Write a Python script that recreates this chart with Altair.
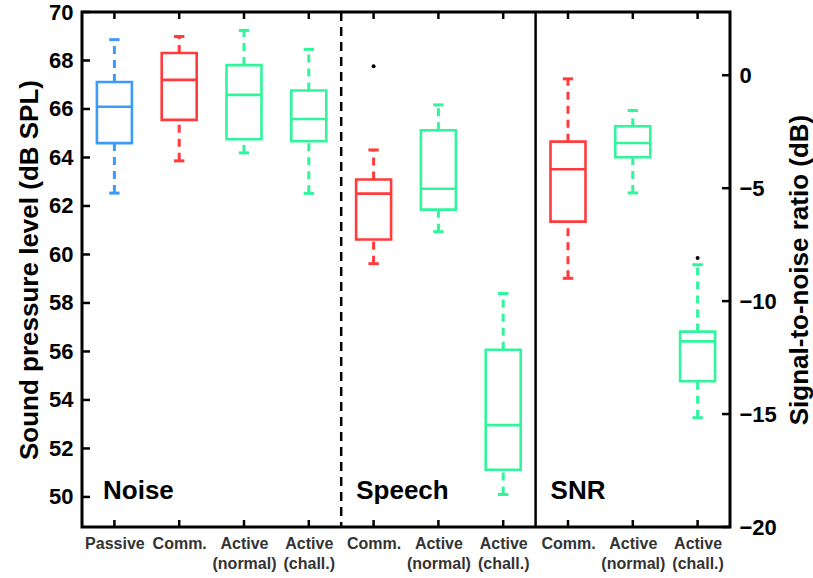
import json
import altair as alt
import pandas as pd

# ---------------- data ----------------
categories = [["Passive"], ["Comm."], ["Active", "(normal)"], ["Active", "(chall.)"],
              ["Comm."], ["Active", "(normal)"], ["Active", "(chall.)"],
              ["Comm."], ["Active", "(normal)"], ["Active", "(chall.)"]]
groups = ["Noise"] * 4 + ["Speech"] * 3 + ["SNR"] * 3
group_names = ["Noise", "Speech", "SNR"]
group_sizes = [4, 3, 3]

whisker_low = [62.53, 63.86, 64.19, 62.52, 59.62, 60.94, 50.10, -8.99, -5.21, -15.16]
q1 = [64.59, 65.55, 64.75, 64.67, 60.62, 61.85, 51.12, -6.48, -3.63, -13.55]
median = [66.09, 67.20, 66.58, 65.59, 62.51, 62.71, 52.96, -4.16, -3.00, -11.78]
q3 = [67.11, 68.31, 67.81, 66.76, 63.09, 65.12, 56.07, -2.94, -2.26, -11.35]
whisker_high = [68.86, 68.99, 69.24, 68.46, 64.31, 66.17, 58.39, -0.16, -1.56, -8.39]

BLUE, RED, GREEN = "#3C9BF7", "#FF3B3B", "#30F59A"
box_colors = [BLUE, RED, GREEN, GREEN, RED, GREEN, GREEN, RED, GREEN, GREEN]

outlier_pos = [4, 9]
outlier_val = [67.76, -8.09]

spl_ticks = list(range(50, 71, 2))
snr_ticks = [-20, -15, -10, -5, 0]

FONT = "Liberation Sans"
W, H = 648, 515

# ---------------- tables ----------------
df = pd.DataFrame({
    "pos": list(range(len(categories))), "group": groups,
    "lo": whisker_low, "q1": q1, "med": median, "q3": q3, "hi": whisker_high,
    "color": box_colors,
})
df_out = pd.DataFrame({"pos": outlier_pos, "v": outlier_val,
                       "group": [groups[p] for p in outlier_pos]})

starts = []
acc = 0
for s in group_sizes:
    starts.append(acc - 0.5)
    acc += s
df_groups = pd.DataFrame({"name": group_names, "start": starts})
df_sep = pd.DataFrame({"b": starts[1:], "kind": ["dashed", "solid"]})

# ---------------- scales / axes ----------------
x_scale = alt.Scale(domain=[-0.5, len(categories) - 0.5], nice=False, zero=False)
label_expr = json.dumps(categories) + "[datum.value]"
x_axis = alt.Axis(title="", values=list(range(len(categories))), labelExpr=label_expr,
                  ticks=False, tickSize=0, domain=False, grid=False,
                  labelFont=FONT, labelFontSize=16, labelFontWeight="bold",
                  labelColor="#333333", labelPadding=8, labelLineHeight=20,
                  labelAngle=0)

spl_scale = alt.Scale(domain=[48.76, 70], nice=False, zero=False)
spl_axis = alt.Axis(title="Sound pressure level (dB SPL)", values=spl_ticks,
                    ticks=False, tickSize=0, domain=False, grid=False,
                    labelFont=FONT, labelFontSize=22, labelFontWeight="bold",
                    labelColor="black", labelPadding=9,
                    titleFont=FONT, titleFontSize=26, titleFontWeight="bold",
                    titleColor="black", titlePadding=6)

snr_scale = alt.Scale(domain=[-20, 2.8], nice=False, zero=False)
snr_axis = alt.Axis(title="Signal-to-noise ratio (dB)", values=snr_ticks, orient="right",
                    ticks=False, tickSize=0, domain=False, grid=False,
                    labelFont=FONT, labelFontSize=22, labelFontWeight="bold",
                    labelColor="black", labelPadding=9,
                    titleFont=FONT, titleFontSize=26, titleFontWeight="bold",
                    titleColor="black", titlePadding=10, titleAngle=270,
                    titleBaseline="top")


def X(field):
    return alt.X(f"{field}:Q", scale=x_scale, axis=x_axis)


def box_layers(data, yscale, yaxis):
    def Y(field):
        return alt.Y(f"{field}:Q", scale=yscale, axis=yaxis)

    base = alt.Chart(data).transform_calculate(
        bl="datum.pos - 0.27", br="datum.pos + 0.27",
        cl="datum.pos - 0.08", cr="datum.pos + 0.08")
    col = alt.Color("color:N", scale=None)
    dashed = dict(strokeWidth=3, strokeDash=[8, 6])
    w_hi = base.mark_rule(**dashed).encode(x=X("pos"), y=Y("q3"), y2="hi:Q", color=col)
    w_lo = base.mark_rule(**dashed).encode(x=X("pos"), y=Y("lo"), y2="q1:Q", color=col)
    cap_hi = base.mark_rule(strokeWidth=3).encode(x=X("cl"), x2="cr:Q", y=Y("hi"), color=col)
    cap_lo = base.mark_rule(strokeWidth=3).encode(x=X("cl"), x2="cr:Q", y=Y("lo"), color=col)
    box = base.mark_rect(fill="white", strokeWidth=2.6).encode(
        x=X("bl"), x2="br:Q", y=Y("q1"), y2="q3:Q",
        stroke=alt.Stroke("color:N", scale=None))
    med = base.mark_rule(strokeWidth=2.6).encode(x=X("bl"), x2="br:Q", y=Y("med"), color=col)
    return [w_hi, w_lo, cap_hi, cap_lo, box, med], Y


spl_layers, Yspl = box_layers(df[df.group != "SNR"], spl_scale, spl_axis)
snr_layers, Ysnr = box_layers(df[df.group == "SNR"], snr_scale, snr_axis)

out_spl = alt.Chart(df_out[df_out.group != "SNR"]).mark_circle(
    color="black", size=16, opacity=1).encode(x=X("pos"), y=Yspl("v"))
out_snr = alt.Chart(df_out[df_out.group == "SNR"]).mark_circle(
    color="black", size=16, opacity=1).encode(x=X("pos"), y=Ysnr("v"))

# inward ticks
left_ticks = alt.Chart(pd.DataFrame({"t": spl_ticks})).mark_rule(
    color="black", strokeWidth=2.5).encode(y=Yspl("t"), x=alt.value(0), x2=alt.value(8))
right_ticks = alt.Chart(pd.DataFrame({"t": snr_ticks})).mark_rule(
    color="black", strokeWidth=2.5).encode(y=Ysnr("t"), x=alt.value(W - 8), x2=alt.value(W))
pos_df = pd.DataFrame({"pos": list(range(len(categories)))})
top_ticks = alt.Chart(pos_df).mark_rule(color="black", strokeWidth=2.5).encode(
    x=X("pos"), y=alt.value(0), y2=alt.value(7))
bottom_ticks = alt.Chart(pos_df).mark_rule(color="black", strokeWidth=2.5).encode(
    x=X("pos"), y=alt.value(H - 7), y2=alt.value(H))

# group separators
sep_dashed = alt.Chart(df_sep[df_sep.kind == "dashed"]).mark_rule(
    color="black", strokeWidth=2.5, strokeDash=[9, 6]).encode(
    x=X("b"), y=alt.value(0), y2=alt.value(H))
sep_solid = alt.Chart(df_sep[df_sep.kind == "solid"]).mark_rule(
    color="black", strokeWidth=2.5).encode(x=X("b"), y=alt.value(0), y2=alt.value(H))

# group labels
txt_noise = alt.Chart(df_groups[df_groups.name == "Noise"]).mark_text(
    font=FONT, fontSize=26, fontWeight="bold", color="black", align="left",
    baseline="alphabetic", dx=21).encode(x=X("start"), y=alt.value(487), text="name:N")
txt_other = alt.Chart(df_groups[df_groups.name != "Noise"]).mark_text(
    font=FONT, fontSize=26, fontWeight="bold", color="black", align="left",
    baseline="alphabetic", dx=15).encode(x=X("start"), y=alt.value(487), text="name:N")

spl_group = alt.layer(sep_dashed, sep_solid, top_ticks, bottom_ticks, left_ticks,
                      *spl_layers, out_spl, txt_noise, txt_other)
snr_group = alt.layer(right_ticks, *snr_layers, out_snr)

chart = alt.layer(spl_group, snr_group).resolve_scale(y="independent").properties(
    width=W, height=H,
    autosize=alt.AutoSizeParams(type="none"),
    padding={"left": 82, "top": 12, "right": 83, "bottom": 51},
    background="white",
).configure_view(stroke="black", strokeWidth=3)

chart.save("out.html", embed_options={"renderer": "svg", "actions": False})
